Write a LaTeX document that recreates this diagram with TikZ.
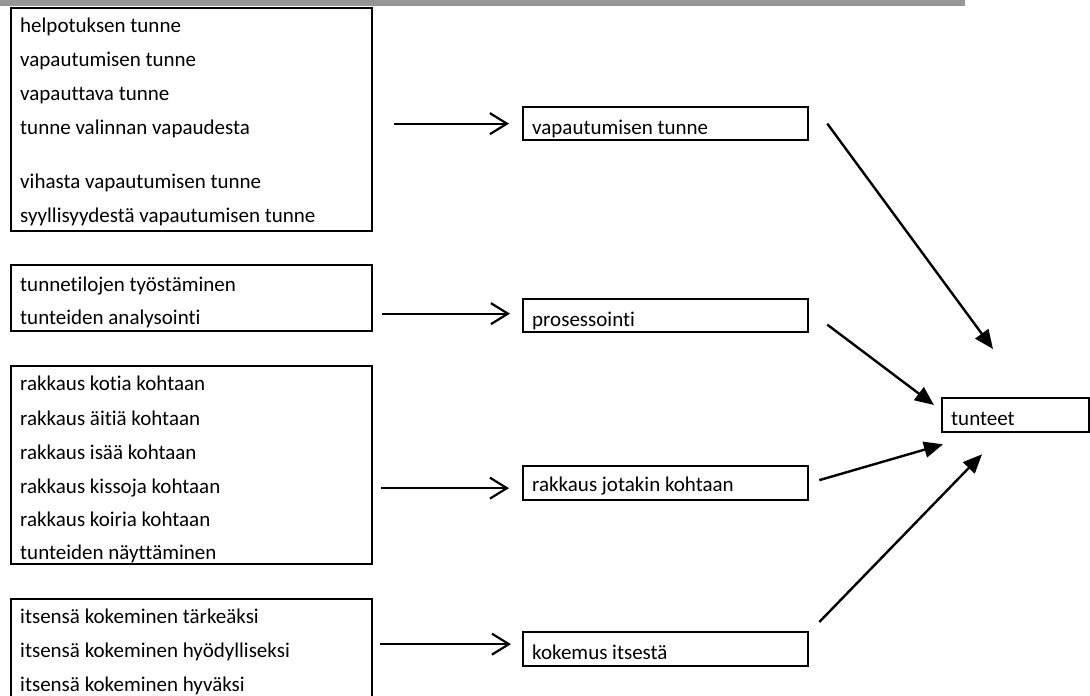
\documentclass[tikz,border=0pt]{standalone}
\usepackage{fontspec}
\setmainfont{Carlito}[Ligatures={NoCommon,NoContextual}]
\usetikzlibrary{arrows.meta,calc}
\definecolor{bargray}{RGB}{150,150,150}
\begin{document}
\begin{tikzpicture}[x=1pt,y=-1pt,
  box/.style={draw=black,line width=2.3pt,anchor=north west,inner sep=0pt},
  lbl/.style={anchor=mid west,inner sep=0pt,font=\fontsize{21}{25}\selectfont},
  harrow/.style={line width=2.2pt,-{Straight Barb[length=17pt,width=21pt]}},
  darrow/.style={line width=2.4pt,-{Triangle[length=19pt,width=16pt]}}]
\useasboundingbox (0,0) rectangle (1090,696);
\clip (0,0) rectangle (1090,696);
\fill[white] (0,0) rectangle (1090,696);
\fill[bargray] (0,0) rectangle (965,6);

% left boxes
\node[box,minimum width=361pt,minimum height=223pt] (A) at (10,7) {};
\node[box,minimum width=361pt,minimum height=66pt] (B) at (10,264) {};
\node[box,minimum width=361pt,minimum height=198pt] (C) at (10,365) {};
\node[box,minimum width=361pt,minimum height=120pt] (D) at (10,598) {};

\node[lbl] (a1) at (20,30) {helpotuksen tunne};
\node[lbl] (a2) at (20,64) {vapautumisen tunne};
\node[lbl] (a3) at (20,98) {vapauttava tunne};
\node[lbl] (a4) at (20,132) {tunne valinnan vapaudesta};
\node[lbl] (a5) at (20,186) {vihasta vapautumisen tunne};
\node[lbl] (a6) at (20,220) {syyllisyydestä vapautumisen tunne};

\node[lbl] (b1) at (20,289) {tunnetilojen työstäminen};
\node[lbl] (b2) at (20,322) {tunteiden analysointi};

\node[lbl] (c1) at (20,388) {rakkaus kotia kohtaan};
\node[lbl] (c2) at (20,423) {rakkaus äitiä kohtaan};
\node[lbl] (c3) at (20,457) {rakkaus isää kohtaan};
\node[lbl] (c4) at (20,491) {rakkaus kissoja kohtaan};
\node[lbl] (c5) at (20,524) {rakkaus koiria kohtaan};
\node[lbl] (c6) at (20,557) {tunteiden näyttäminen};

\node[lbl] (d1) at (20,621) {itsensä kokeminen tärkeäksi};
\node[lbl] (d2) at (20,655) {itsensä kokeminen hyödylliseksi};
\node[lbl] (d3) at (20,689) {itsensä kokeminen hyväksi};

% middle boxes
\node[box,minimum width=285pt,minimum height=33pt] (R1) at (522,106) {};
\node[box,minimum width=285pt,minimum height=33pt] (R2) at (522,298) {};
\node[box,minimum width=285pt,minimum height=34pt] (R3) at (522,465) {};
\node[box,minimum width=285pt,minimum height=34pt] (R4) at (522,631) {};
\node[lbl] (r1) at ($(R1.west)+(10,8)$) {vapautumisen tunne};
\node[lbl] (r2) at ($(R2.west)+(10,8)$) {prosessointi};
\node[lbl] (r3) at ($(R3.west)+(10,6)$) {rakkaus jotakin kohtaan};
\node[lbl] (r4) at ($(R4.west)+(10,8)$) {kokemus itsestä};

% right box
\node[box,minimum width=147pt,minimum height=34pt] (T) at (941,397) {};
\node[lbl] (t1) at ($(T.west)+(10,8)$) {tunteet};

% horizontal arrows
\draw[harrow] ($(A.east|-R1.west)+(21,0)$) -- ($(R1.west)+(-13,0)$);
\draw[harrow] ($(B.east|-R2.west)+(9,-2)$) -- ($(R2.west)+(-12,-2)$);
\draw[harrow] ($(C.east|-R3.west)+(8,5)$) -- ($(R3.west)+(-13,5)$);
\draw[harrow] ($(D.east|-R4.west)+(7,-5)$) -- ($(R4.west)+(-11,-5)$);

% diagonal arrows
\draw[darrow] ($(R1.east)+(18,0)$) -- ($(T.north west)+(52,-48)$);
\draw[darrow] ($(R2.east)+(18,9)$) -- ($(T.north west)+(-7,8)$);
\draw[darrow] ($(R3.east)+(10,-3)$) -- ($(T.south west)+(2,11)$);
\draw[darrow] ($(R4.north east)+(10,-9)$) -- ($(T.south west)+(41,21)$);
\end{tikzpicture}
\end{document}
